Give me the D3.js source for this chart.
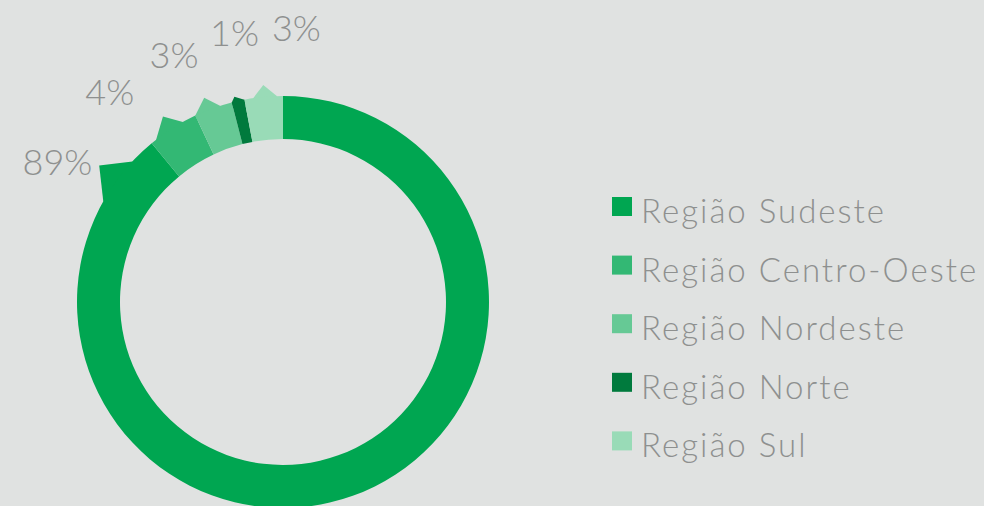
<!DOCTYPE html>
<html>
<head>
<meta charset="utf-8">
<script src="https://cdn.jsdelivr.net/npm/d3@7"></script>
<style>
  html, body { margin: 0; padding: 0; background: #e0e2e1; }
  svg { display: block; }
  text { font-family: Lato, "Open Sans", sans-serif; font-weight: 300; fill: #8e908f; }
</style>
</head>
<body>
<script>
// Data
const regions = ['Região Sudeste', 'Região Centro-Oeste', 'Região Nordeste', 'Região Norte', 'Região Sul']
const shares = [89, 4, 3, 1, 3]
const shareLabels = ['89%', '4%', '3%', '1%', '3%']
const colors = ['#00a651', '#33b874', '#66c995', '#007a3d', '#99dbb7']

// Small tab sticking out of each slice (fractions of the slice span, lift in px)
const tabs = [
  { from: 0.934, peak: 0.957, to: 0.977, lift: 23 },
  { from: 0.11, peak: 0.465, to: 0.73, lift: 15 },
  { from: 0.0, peak: 0.38, to: 0.685, lift: 13 },
  { from: 0.0, peak: 0.3, to: 1.0, lift: 5 },
  { from: 0.23, peak: 0.52, to: 0.84, lift: 12 }
]
// label placement: angle (deg) and radius from centre
const labelPos = [
  { angle: 302, r: 266 },
  { angle: 320.6, r: 273 },
  { angle: 336.3, r: 271 },
  { angle: 349.8, r: 274 },
  { angle: 362.8, r: 275 }
]

const width = 984
const height = 506
const cx = 283
const cy = 302
const outerR = 206
const innerR = 163

const svg = d3.select('body')
  .append('svg')
  .attr('width', width)
  .attr('height', height)

const chart = svg.append('g')
  .attr('transform', `translate(${cx}, ${cy})`)

const pie = d3.pie().sort(null).value((d) => d)
const arcs = pie(shares)

const arc = d3.arc().innerRadius(innerR).outerRadius(outerR)

const toRad = (deg) => deg * Math.PI / 180

// tabs first, under the ring
chart.selectAll('.tab')
  .data(arcs)
  .enter()
  .append('path')
  .attr('class', 'tab')
  .attr('fill', (d, i) => colors[i])
  .attr('d', (d, i) => {
    const t = tabs[i]
    const span = d.endAngle - d.startAngle
    const a0 = d.startAngle + span * t.from
    const a1 = d.startAngle + span * t.to
    const ap = d.startAngle + span * t.peak
    const pts = [
      d3.pointRadial(a0, outerR - 6),
      d3.pointRadial(a0, outerR),
      d3.pointRadial(ap, outerR + t.lift),
      d3.pointRadial(a1, outerR),
      d3.pointRadial(a1, outerR - 6)
    ]
    return d3.line()(pts) + 'Z'
  })

chart.selectAll('.slice')
  .data(arcs)
  .enter()
  .append('path')
  .attr('class', 'slice')
  .attr('fill', (d, i) => colors[i])
  .attr('d', arc)

// percentage labels
chart.selectAll('.pct')
  .data(shareLabels)
  .enter()
  .append('text')
  .attr('class', 'pct')
  .attr('text-anchor', 'middle')
  .attr('dominant-baseline', 'central')
  .attr('font-size', 36)
  .attr('x', (d, i) => d3.pointRadial(toRad(labelPos[i].angle), labelPos[i].r)[0])
  .attr('y', (d, i) => d3.pointRadial(toRad(labelPos[i].angle), labelPos[i].r)[1])
  .text((d) => d)

// legend
const legend = svg.append('g')
  .attr('transform', 'translate(612, 197)')

const item = legend.selectAll('.legend-item')
  .data(regions)
  .enter()
  .append('g')
  .attr('class', 'legend-item')
  .attr('transform', (d, i) => `translate(0, ${i * 58.6})`)

item.append('rect')
  .attr('width', 20)
  .attr('height', 19)
  .attr('fill', (d, i) => colors[i])

item.append('text')
  .attr('x', 29)
  .attr('y', 26)
  .attr('font-size', 33)
  .attr('letter-spacing', 2)
  .text((d) => d)
</script>
</body>
</html>
